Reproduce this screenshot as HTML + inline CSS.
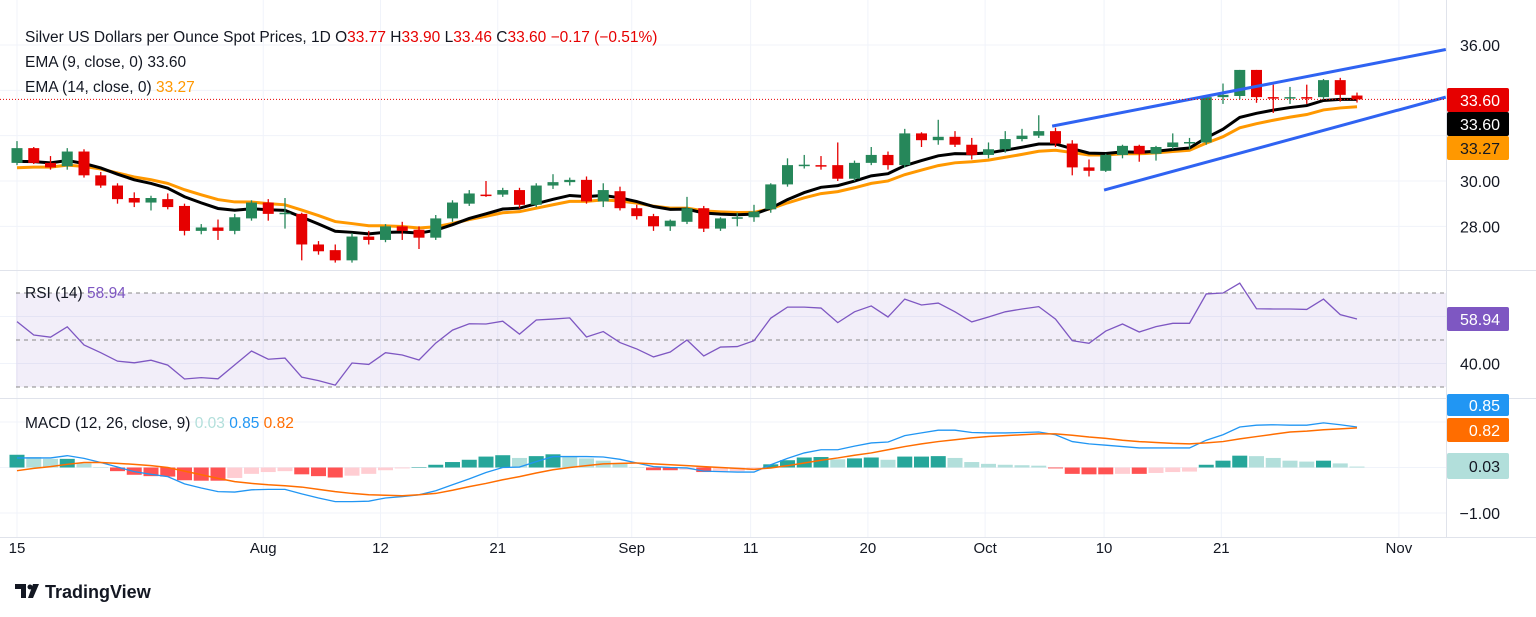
<!DOCTYPE html>
<html><head><meta charset="utf-8">
<style>
html,body{margin:0;padding:0;background:#fff;width:1536px;height:617px;overflow:hidden;font-family:"Liberation Sans",sans-serif}
svg text{font-family:"Liberation Sans",sans-serif}
</style></head>
<body>
<svg id="c" width="1536" height="617" xmlns="http://www.w3.org/2000/svg"></svg>
<script>
const opens=[30.8,31.45,30.8,30.65,31.3,30.25,29.8,29.25,29.05,29.2,28.9,27.8,27.95,27.8,28.35,29.05,28.55,28.55,27.2,26.95,26.5,27.55,27.4,28.0,27.85,27.5,28.35,29.0,29.4,29.4,29.6,28.95,29.8,29.95,30.05,29.1,29.55,28.8,28.45,28.0,28.2,28.8,27.9,28.35,28.4,28.75,29.85,30.7,30.7,30.7,30.1,30.8,31.15,30.7,32.1,31.8,31.95,31.6,31.15,31.4,31.85,32.0,32.2,31.65,30.6,30.45,31.15,31.55,31.2,31.5,31.7,31.7,33.7,33.75,34.9,33.7,33.68,33.7,33.7,34.45,33.77];
const closes=[31.45,30.8,30.6,31.3,30.25,29.8,29.2,29.05,29.25,28.85,27.8,27.95,27.8,28.4,29.05,28.55,28.6,27.2,26.9,26.5,27.55,27.4,28.0,27.8,27.5,28.35,29.05,29.45,29.38,29.6,28.95,29.8,29.95,30.05,29.1,29.6,28.8,28.45,28.0,28.25,28.8,27.9,28.35,28.4,28.65,29.85,30.7,30.72,30.65,30.1,30.8,31.15,30.7,32.1,31.8,31.95,31.6,31.15,31.4,31.85,32.0,32.2,31.65,30.6,30.45,31.15,31.55,31.2,31.5,31.7,31.72,33.7,33.8,34.9,33.7,33.68,33.7,33.68,34.45,33.8,33.6];
const highs=[31.76,31.5,31.1,31.45,31.4,30.4,29.9,29.5,29.35,29.45,29.0,28.1,28.3,28.55,29.15,29.2,29.25,28.6,27.35,27.2,27.7,27.8,28.1,28.2,28.0,28.5,29.15,29.6,30.0,29.7,29.7,29.9,30.3,30.15,30.2,29.9,29.75,28.95,28.55,28.3,29.3,28.9,28.4,28.6,28.95,29.9,31.0,31.15,31.1,31.7,30.9,31.5,31.3,32.3,32.15,32.7,32.2,31.9,31.7,32.2,32.3,32.9,32.35,31.8,30.95,31.2,31.6,31.6,31.55,32.1,31.9,33.75,34.3,34.9,34.9,34.25,34.15,34.25,34.5,34.55,33.9];
const lows=[30.7,30.75,30.5,30.5,30.15,29.7,29.0,28.85,28.7,28.75,27.6,27.65,27.4,27.65,28.25,28.25,27.9,26.5,26.75,26.4,26.4,27.2,27.3,27.4,27.0,27.4,28.2,28.9,29.3,29.3,28.8,28.85,29.65,29.8,29.0,28.85,28.7,28.3,27.8,27.8,28.1,27.75,27.8,28.0,28.2,28.6,29.75,30.55,30.5,30.0,30.0,30.7,30.5,30.6,31.5,31.6,31.5,30.95,31.0,31.25,31.75,31.9,31.5,30.25,30.2,30.4,31.0,30.85,30.9,31.4,31.4,31.6,33.4,33.6,33.45,33.0,33.4,33.4,33.6,33.5,33.46];
const rsi=[57.8,52.1,51.2,55.6,47.9,44.6,41,40.3,41.4,39.3,33.4,34,33.5,39.4,45.3,41.8,42.3,34.2,32.7,30.8,40.2,39.6,44.6,43.6,41.5,48.7,54.2,56.9,56.8,58,52.5,58.5,58.9,59.4,51.3,53.6,48.9,46.2,42.8,44.9,50,43.2,47,47.2,49.7,59.3,64,64,63.6,57.4,62,64.5,59.8,67.4,64.9,65.7,62,57.7,59.8,62,63.2,64.2,58.9,49.7,48.6,53.8,56.8,53.4,55.7,57.1,57.1,69.6,70,74.2,63.3,63.2,63.2,63,67.4,60.8,58.94];
const macd=[.21,.21,.21,.26,.2,.11,.01,-.09,-.15,-.2,-.36,-.45,-.53,-.54,-.49,-.48,-.48,-.58,-.67,-.75,-.75,-.74,-.67,-.64,-.6,-.51,-.38,-.25,-.11,0,.01,.13,.24,.24,.24,.23,.18,.1,.02,0,-.01,-.08,-.09,-.1,-.1,.06,.2,.32,.39,.39,.47,.54,.56,.7,.76,.82,.82,.77,.76,.76,.77,.78,.72,.57,.52,.49,.46,.43,.43,.43,.43,.6,.72,.89,.93,.94,.93,.93,.98,.94,.89];
const signal=[-.07,-.02,.02,.07,.11,.11,.09,.07,.04,0,-.08,-.16,-.24,-.31,-.35,-.38,-.4,-.43,-.48,-.53,-.57,-.6,-.61,-.62,-.6,-.57,-.5,-.42,-.35,-.27,-.2,-.12,-.05,0,.04,.08,.09,.1,.08,.06,.04,.02,0,-.02,-.04,-.01,.04,.1,.16,.21,.27,.32,.39,.46,.52,.57,.61,.65,.68,.7,.72,.74,.74,.71,.67,.64,.6,.57,.55,.53,.52,.54,.57,.63,.68,.73,.78,.8,.83,.85,.87];
const dateLabels=["15","Aug","12","21","Sep","11","20","Oct","10","21","Nov"];
const dateIdx=[0,14.7,21.7,28.7,36.7,43.8,50.8,57.8,64.9,71.9,82.5];
const priceTicks=[28,30,36];
const rsiTicks=[40];
const macdTicks=[-1];
const channelUpper=[[61.8,32.42],[85.3,35.8]];
const channelLower=[[64.9,29.6],[85.3,33.7]];

const S='http://www.w3.org/2000/svg', svg=document.getElementById('c');
function el(t,a,p){const e=document.createElementNS(S,t);for(const k in a)e.setAttribute(k,a[k]);(p||svg).appendChild(e);return e;}
const PW=1446;
const X=i=>17+i*16.75;
const Y=p=>181-(p-30)*22.67;
const RY=v=>340-(v-50)*2.35;
const MY=v=>467.5-v*45.5;

const grid=el('g',{});


dateIdx.forEach(i=>el('line',{x1:X(i),x2:X(i),y1:0,y2:538,stroke:'#f0f3fa'},grid));
[28,30,32,34,36].forEach(p=>el('line',{x1:0,x2:PW,y1:Y(p),y2:Y(p),stroke:'#f0f3fa'},grid));
[40,60].forEach(v=>el('line',{x1:0,x2:PW,y1:RY(v),y2:RY(v),stroke:'#f0f3fa'},grid));
[0,1,-1].forEach(v=>el('line',{x1:0,x2:PW,y1:MY(v),y2:MY(v),stroke:'#f0f3fa'},grid));
el('line',{x1:0,x2:1536,y1:270.5,y2:270.5,stroke:'#e0e3eb'});
el('line',{x1:0,x2:1536,y1:398.5,y2:398.5,stroke:'#e0e3eb'});
el('line',{x1:0,x2:1536,y1:537.5,y2:537.5,stroke:'#e0e3eb'});
el('line',{x1:PW+0.5,x2:PW+0.5,y1:0,y2:538,stroke:'#e0e3eb'});

const pp=el('g',{});


function ema(arr,n,seed){const k=2/(n+1);let v=seed;return arr.map(c=>(v=c*k+v*(1-k)));}
const e9=ema(closes,9,30.72), e14=ema(closes,14,30.45);
const l14=el('polyline',{points:e14.map((v,i)=>X(i)+','+Y(v)).join(' '),fill:'none',stroke:'#ff9800','stroke-width':3},pp);


const l9=el('polyline',{points:e9.map((v,i)=>X(i)+','+Y(v)).join(' '),fill:'none',stroke:'#000','stroke-width':3},pp);


opens.forEach((o,i)=>{const c=closes[i],col=c>=o?'#26875a':'#e60000';
 const g=el('g',{},pp);
 
 
 el('line',{x1:X(i),x2:X(i),y1:Y(highs[i]),y2:Y(lows[i]),stroke:col,'stroke-width':1.3},g);
 const t=Y(Math.max(o,c)),b=Y(Math.min(o,c));
 el('rect',{x:X(i)-5.5,y:t,width:11,height:Math.max(1.5,b-t),fill:col},g);});
[channelUpper,channelLower].forEach((ch,k)=>{const ln=el('line',{x1:X(ch[0][0]),y1:Y(ch[0][1]),x2:X(ch[1][0]),y2:Y(ch[1][1]),stroke:'#2f63f2','stroke-width':3},pp);
 
 });
el('line',{x1:0,x2:PW,y1:Y(33.6),y2:Y(33.6),stroke:'#e60000','stroke-dasharray':'1 2'},pp);
el('rect',{x:PW+1,y:0,width:90,height:270,fill:'#fff'});
priceTicks.forEach(p=>{const t=el('text',{x:1500,y:Y(p)+6,'text-anchor':'end','font-size':16,fill:'#131722'});t.textContent=p.toFixed(2);});
function badge(y,h,bg,fg,txt,name){const g=el('g',{});
 el('rect',{x:1447,y:y,width:62,height:h,fill:bg,rx:2},g);const t=el('text',{x:1500,y:y+h/2+6,'text-anchor':'end','font-size':16,fill:fg},g);t.textContent=txt;}
badge(88,24,'#e60000','#fff','33.60','last-price-label');
badge(112,24,'#000','#fff','33.60','ema9-label');
badge(136,24,'#ff9800','#131722','33.27','ema14-label');

const rp=el('g',{});


el('rect',{x:16,y:RY(70),width:PW-16,height:RY(30)-RY(70),fill:'#7e57c2','fill-opacity':0.1},rp);
[70,50,30].forEach(v=>el('line',{x1:16,x2:PW,y1:RY(v),y2:RY(v),stroke:'#888','stroke-dasharray':'4 4'},rp));
const rl=el('polyline',{points:rsi.map((v,i)=>X(i)+','+RY(v)).join(' '),fill:'none',stroke:'#7e57c2','stroke-width':1.3},rp);


rsiTicks.forEach(v=>{const t=el('text',{x:1500,y:RY(v)+6,'text-anchor':'end','font-size':16,fill:'#131722'});t.textContent=v.toFixed(2);});
badge(307,24,'#7e57c2','#fff','58.94','rsi-value-label');

const mp=el('g',{});


macd.forEach((m,i)=>{const h=m-signal[i],ph=i?macd[i-1]-signal[i-1]:h;
 const col=h>=0?(h>=ph?'#26a69a':'#b2dfdb'):(h<=ph?'#ff5252':'#ffcdd2');
 const r=el('rect',{x:X(i)-7.5,y:Math.min(MY(0),MY(h)),width:15,height:Math.max(0.5,Math.abs(MY(h)-MY(0))),fill:col},mp);
 
 });
const ml=el('polyline',{points:macd.map((v,i)=>X(i)+','+MY(v)).join(' '),fill:'none',stroke:'#2196f3','stroke-width':1.3},mp);


const sl=el('polyline',{points:signal.map((v,i)=>X(i)+','+MY(v)).join(' '),fill:'none',stroke:'#ff6d00','stroke-width':1.5},mp);


macdTicks.forEach(v=>{const t=el('text',{x:1500,y:MY(v)+6,'text-anchor':'end','font-size':16,fill:'#131722'});t.textContent='\u2212'+Math.abs(v).toFixed(2);});
badge(394,22,'#2196f3','#fff','0.85','macd-value-label');
badge(418,24,'#ff6d00','#fff','0.82','signal-value-label');
badge(453,26,'#b2dfdb','#131722','0.03','histogram-value-label');

dateLabels.forEach((d,i)=>{const t=el('text',{x:X(dateIdx[i]),y:553,'text-anchor':'middle','font-size':15,fill:'#131722'});
 
 
 t.textContent=d;});

function txt(x,y,parts,name){const t=el('text',{x:x,y:y,'font-size':15.5,fill:'#131722'});
 parts.forEach(p=>{const s=el('tspan',{fill:p[1]||'#131722'},t);s.textContent=p[0];});}
const R='#e60000';
txt(25,42,[['Silver US Dollars per Ounce Spot Prices, 1D  O'],['33.77',R],['  H'],['33.90',R],['  L'],['33.46',R],['  C'],['33.60',R],['  \u22120.17 (\u22120.51%)',R]],'price-legend');
txt(25,67,[['EMA (9, close, 0)  '],['33.60']],'ema9-legend');
txt(25,92,[['EMA (14, close, 0)  '],['33.27','#ff9800']],'ema14-legend');
txt(25,298,[['RSI (14)  '],['58.94','#7e57c2']],'rsi-legend');
txt(25,428,[['MACD (12, 26, close, 9)  '],['0.03','#b2dfdb'],['  '],['0.85','#2196f3'],['  '],['0.82','#ff6d00']],'macd-legend');

const lg=el('g',{});


el('path',{d:'M15 584h11v14h-5v-9h-6z',fill:'#131722'},lg);
el('circle',{cx:30,cy:587,r:2.5,fill:'#131722'},lg);
el('path',{d:'M33 584h6l-6 14h-5z',fill:'#131722'},lg);
const lt=el('text',{x:45,y:598,'font-size':18,'font-weight':'bold',fill:'#131722'},lg);lt.textContent='TradingView';
</script>
</body></html>
